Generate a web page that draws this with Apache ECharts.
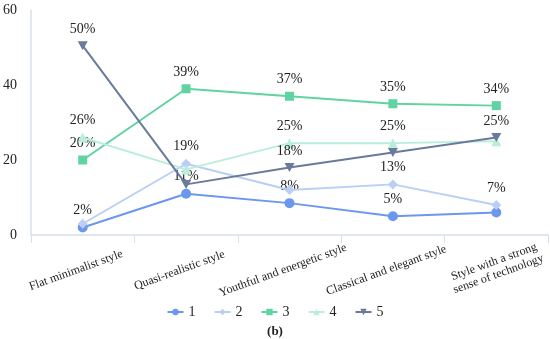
<!DOCTYPE html>
<html><head><meta charset="utf-8">
<script src="https://cdn.jsdelivr.net/npm/echarts@6/dist/echarts.min.js"></script>
<style>html,body{margin:0;padding:0;background:#fff}#c{width:550px;height:339px}</style>
</head><body><div id="c"></div>
<script>
const categories = ['Flat minimalist style','Quasi-realistic style','Youthful and energetic style','Classical and elegant style','Style with a strong\nsense of technology'];
const seriesNames = ['1','2','3','4','5'];
const s1 = [2, 11, 8.5, 5, 6];
const s2 = [3, 19, 12, 13.5, 8];
const s3 = [20, 39, 37, 35, 34.5];
const s4 = [26, 17.5, 24.5, 24.5, 25];
const s5 = [50.5, 13.5, 18, 22, 26];
const l1 = ['2%', '11%', '8%', '5%', null];
const l2 = [null, '19%', null, '13%', '7%'];
const l3 = ['20%', '39%', '37%', '35%', '34%'];
const l4 = ['26%', null, '25%', '25%', null];
const l5 = ['50%', null, '18%', null, '25%'];
const yTicks = [0, 20, 40, 60];

const colors = ['#6b97ef', '#b9cff5', '#5fd4a2', '#b9eedb', '#6a7a9b'];
const symbols = ['circle', 'diamond', 'rect', 'triangle', 'path://M0,0 L10,0 L5,9 Z'];
const values = [s1, s2, s3, s4, s5];
const labels = [l1, l2, l3, l4, l5];
const font = 'Liberation Serif';

const series = values.map((v, i) => ({
  name: seriesNames[i],
  type: 'line',
  data: v.map((val, j) => ({
    value: val,
    label: { show: labels[i][j] != null, formatter: () => labels[i][j] }
  })),
  symbol: symbols[i],
  symbolSize: i === 4 ? [10, 9] : (i === 2 ? 9 : 10),
  lineStyle: { color: colors[i], width: 2 },
  itemStyle: { color: colors[i] },
  label: { position: 'top', distance: 5, color: '#222', fontFamily: font, fontSize: 14 },
  z: 2 + i
}));

const chart = echarts.init(document.getElementById('c'));
chart.setOption({
  animation: false,
  title: {
    text: '(b)', left: 'center', top: 320,
    textStyle: { fontFamily: font, fontSize: 13, fontWeight: 'bold', color: '#222' }
  },
  grid: { left: 31, right: 2, top: 10, bottom: 104 },
  legend: {
    top: 300, left: 'center', itemWidth: 16, itemHeight: 8, itemGap: 18,
    textStyle: { fontFamily: font, fontSize: 14, color: '#222' },
    data: seriesNames
  },
  xAxis: {
    type: 'category', data: categories, boundaryGap: true,
    axisLine: { lineStyle: { color: '#d9e0ea', width: 1.5 } },
    axisTick: { show: true, length: 8, lineStyle: { color: '#d9e0ea' } },
    axisLabel: {
      interval: 0, rotate: 20, align: 'center', verticalAlign: 'middle', margin: 33,
      fontFamily: font, fontSize: 12, color: '#222', lineHeight: 13,
      formatter: (v, idx) => idx < 4 ? '{a|' + v + '}' : '{b|' + v.split('\n').join('}\n{b|') + '}',
      rich: {
        a: { fontFamily: font, fontSize: 12, color: '#222', padding: [0, 14, 0, 0] },
        b: { fontFamily: font, fontSize: 12, color: '#222', lineHeight: 13 }
      }
    }
  },
  yAxis: {
    type: 'value', min: 0, max: 60, interval: 20,
    axisLine: { show: true, lineStyle: { color: '#d9e0ea', width: 1.5 } },
    axisTick: { show: false },
    splitLine: { show: false },
    axisLabel: {
      margin: 14, fontFamily: font, fontSize: 14, color: '#222',
      formatter: v => yTicks.includes(v) ? String(v) : ''
    }
  },
  series: series
});
</script></body></html>
